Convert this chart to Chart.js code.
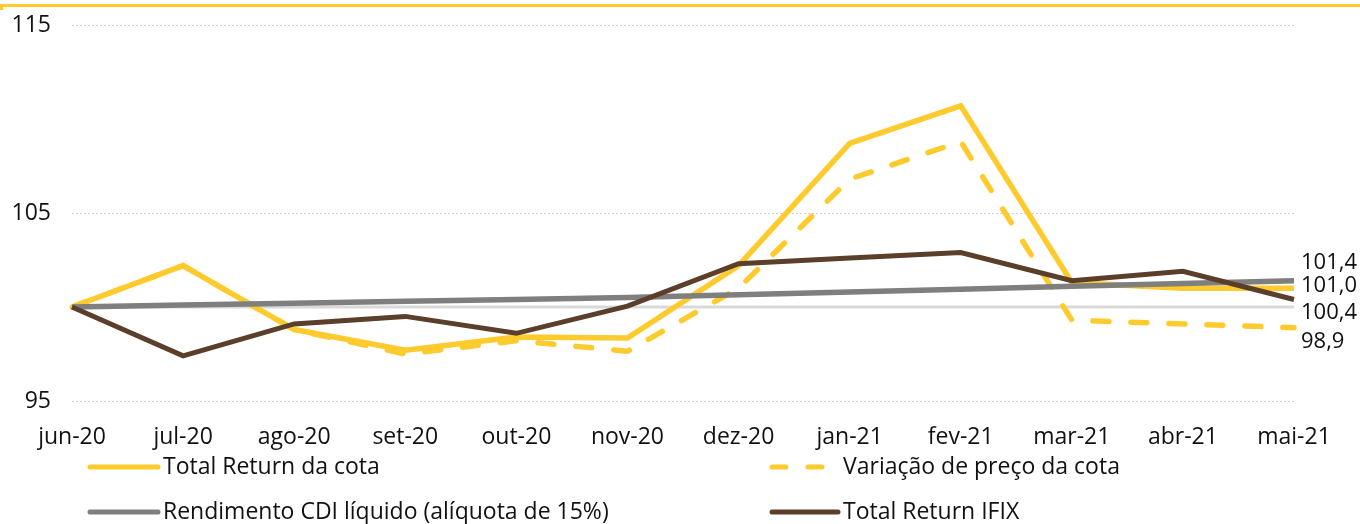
<!DOCTYPE html>
<html>
<head>
<meta charset="utf-8">
<script src="https://cdn.jsdelivr.net/npm/chart.js@4.4.1/dist/chart.umd.min.js"></script>
<style>
html,body{margin:0;padding:0;background:#fff;}
#wrap{width:1360px;height:524px;position:relative;}
</style>
</head>
<body>
<div id="wrap"><canvas id="c" width="1360" height="524"></canvas></div>
<script>
const categories = ['jun-20','jul-20','ago-20','set-20','out-20','nov-20','dez-20','jan-21','fev-21','mar-21','abr-21','mai-21'];
const totalReturnCota = [100, 102.2, 98.8, 97.7, 98.4, 98.35, 102.2, 108.7, 110.7, 101.3, 101.0, 101.0];
const variacaoPreco   = [100, 102.2, 98.8, 97.5, 98.2, 97.65, 101.0, 106.8, 108.8, 99.3, 99.1, 98.9];
const cdiLiquido      = [100, 100.1, 100.2, 100.3, 100.4, 100.5, 100.65, 100.8, 100.95, 101.1, 101.25, 101.4];
const ifixTotalReturn = [100, 97.4, 99.1, 99.5, 98.6, 100.05, 102.3, 102.6, 102.9, 101.4, 101.9, 100.4];
const base100         = [100, 100, 100, 100, 100, 100, 100, 100, 100, 100, 100, 100];
const yTicks = [95, 105, 115];

const FONT = "'Open Sans', 'Noto Sans', sans-serif";
const YELLOW = '#FDCB2E', GRAY = '#7F7F7F', BROWN = '#5B3F2A', LIGHT = '#D9D9D9';

const endLabelPlugin = {
  id: 'endLabels',
  afterDatasetsDraw(chart) {
    const ctx = chart.ctx;
    const y = chart.scales.y;
    ctx.save();
    ctx.font = '22px ' + FONT;
    ctx.fillStyle = '#111';
    ctx.textAlign = 'left';
    ctx.textBaseline = 'middle';
    chart.data.datasets.forEach(ds => {
      if (ds.endOffset === undefined) return;
      const v = ds.data[ds.data.length - 1];
      ctx.fillText(v.toFixed(1).replace('.', ','), chart.chartArea.right + 7, y.getPixelForValue(v) + ds.endOffset);
    });
    ctx.restore();
  }
};

const decorPlugin = {
  id: 'decor',
  beforeDraw(chart) {
    const ctx = chart.ctx;
    ctx.save();
    ctx.fillStyle = '#fff';
    ctx.fillRect(0, 0, chart.width, chart.height);
    ctx.fillStyle = YELLOW;
    ctx.fillRect(0, 4, chart.width, 3);
    ctx.fillRect(0, 4, 3, 6);
    ctx.restore();
  },
  afterDraw(chart) {
    const ctx = chart.ctx;
    const items = chart.data.datasets.filter(d => d.legendPos);
    ctx.save();
    ctx.font = '23px ' + FONT;
    ctx.textBaseline = 'middle';
    ctx.textAlign = 'left';
    items.forEach(d => {
      const [x0, x1, yy] = d.legendPos;
      ctx.strokeStyle = d.borderColor;
      ctx.lineWidth = 5;
      ctx.lineCap = 'round';
      ctx.setLineDash(d.borderDash ? [14, 22] : []);
      ctx.beginPath();
      ctx.moveTo(x0, yy);
      ctx.lineTo(x1, yy);
      ctx.stroke();
      ctx.setLineDash([]);
      ctx.fillStyle = '#111';
      ctx.fillText(d.label, x1 + 5, yy);
    });
    ctx.restore();
  }
};

new Chart(document.getElementById('c'), {
  type: 'line',
  data: {
    labels: categories,
    datasets: [
      { label: 'Total Return da cota', data: totalReturnCota, borderColor: YELLOW, borderWidth: 5.5, order: 3, endOffset: -2, legendPos: [90, 158, 467] },
      { label: 'Variação de preço da cota', data: variacaoPreco, borderColor: YELLOW, borderWidth: 5.5, borderDash: [16, 22], borderCapStyle: 'round', order: 2, endOffset: 14, legendPos: [772, 838, 467] },
      { label: 'Rendimento CDI líquido (alíquota de 15%)', data: cdiLiquido, borderColor: GRAY, borderWidth: 5.5, order: 1, endOffset: -18, legendPos: [90, 158, 512] },
      { label: 'Total Return IFIX', data: ifixTotalReturn, borderColor: BROWN, borderWidth: 5, order: 0, endOffset: 13, legendPos: [772, 838, 512] },
      { label: 'base', data: base100, borderColor: LIGHT, borderWidth: 3, order: 5 }
    ]
  },
  options: {
    responsive: false,
    animation: false,
    devicePixelRatio: 1,
    layout: { padding: { top: 25, right: 66, bottom: 73, left: 0 } },
    elements: { point: { radius: 0 }, line: { tension: 0, fill: false, borderJoinStyle: 'miter' } },
    plugins: { legend: { display: false }, tooltip: { enabled: false }, title: { display: false } },
    scales: {
      x: {
        offset: false,
        grid: { display: false, drawTicks: false },
        border: { display: false },
        ticks: { color: '#111', font: { family: FONT, size: 23 }, padding: 23, maxRotation: 0, autoSkip: false },
        afterFit(s) { s.height = 50; }
      },
      y: {
        min: 95, max: 115,
        afterBuildTicks(s) { s.ticks = yTicks.map(v => ({ value: v })); },
        grid: { color: '#D0D0D0', lineWidth: 1, drawTicks: false },
        border: { display: false, dash: [2, 2] },
        ticks: { color: '#111', font: { family: FONT, size: 23 }, padding: 21 },
        afterFit(s) { s.width = 72; s.paddingTop = 0; s.paddingBottom = 0; }
      }
    }
  },
  plugins: [decorPlugin, endLabelPlugin]
});
</script>
</body>
</html>
